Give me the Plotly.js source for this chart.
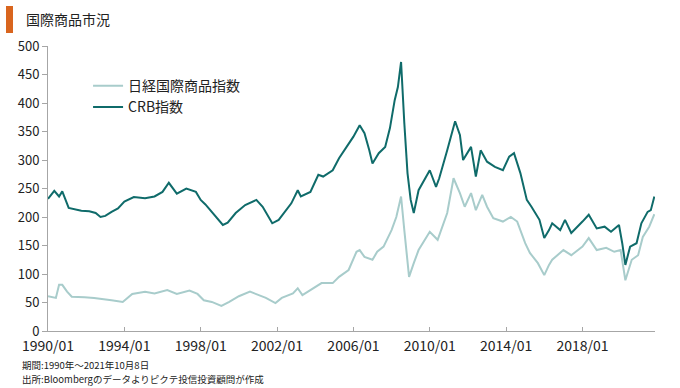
<!DOCTYPE html>
<html><head><meta charset="utf-8">
<script src="https://cdn.plot.ly/plotly-3.0.1.min.js"></script>
<style>html,body{margin:0;padding:0;background:#fff;}#chart{width:680px;height:388px;}</style>
</head><body><div id="chart"></div>
<script>
const crbDates = ['1990-01-01','1990-03-01','1990-05-01','1990-08-01','1990-10-01','1991-02-01','1991-06-01','1991-10-01','1992-03-01','1992-07-01','1992-10-01','1993-01-01','1993-05-01','1993-09-01','1994-01-01','1994-07-01','1995-02-01','1995-08-01','1996-01-01','1996-05-01','1996-10-01','1997-04-01','1997-10-01','1998-01-01','1998-04-01','1998-11-01','1999-03-01','1999-06-01','1999-11-01','2000-05-01','2000-12-01','2001-04-01','2001-10-01','2002-02-01','2002-10-01','2003-02-01','2003-04-01','2003-10-01','2004-03-01','2004-06-01','2004-12-01','2005-04-01','2005-09-01','2006-01-01','2006-05-01','2006-08-01','2006-11-01','2007-01-01','2007-05-01','2007-09-01','2007-12-01','2008-03-01','2008-05-01','2008-07-01','2008-09-01','2008-11-01','2009-01-01','2009-03-01','2009-06-01','2009-09-01','2010-01-01','2010-05-01','2010-07-01','2010-12-01','2011-05-01','2011-08-01','2011-10-01','2012-03-01','2012-06-01','2012-09-01','2013-01-01','2013-06-01','2013-11-01','2014-03-01','2014-06-01','2014-10-01','2015-02-01','2015-05-01','2015-10-01','2016-01-01','2016-04-01','2016-06-01','2016-11-01','2017-02-01','2017-06-01','2018-01-01','2018-05-01','2018-10-01','2019-03-01','2019-07-01','2019-12-01','2020-02-01','2020-04-01','2020-07-01','2020-11-01','2021-02-01','2021-06-01','2021-08-01','2021-10-08'];
const crbValues = [232,238,246,236,245,216,214,211,210,207,200,202,209,215,227,235,233,236,244,260,241,250,244,230,222,200,186,190,207,221,230,218,189,195,224,247,236,244,274,271,282,303,323,341,361,347,317,294,312,323,356,405,428,472,365,277,230,207,247,262,282,253,268,317,368,344,300,323,271,317,297,288,282,306,312,277,230,218,195,163,177,189,177,195,172,192,204,180,183,174,186,154,116,148,154,189,209,212,236];
const nkDates = ['1990-01-01','1990-06-01','1990-08-01','1990-10-01','1991-01-01','1991-04-01','1991-12-01','1992-06-01','1993-05-01','1993-12-01','1994-06-01','1995-02-01','1995-08-01','1996-04-01','1996-10-01','1997-06-01','1997-11-01','1998-03-01','1998-08-01','1999-02-01','1999-07-01','2000-01-01','2000-08-01','2001-01-01','2001-06-01','2001-12-01','2002-04-01','2002-11-01','2003-02-01','2003-05-01','2003-12-01','2004-05-01','2004-12-01','2005-04-01','2005-10-01','2006-03-01','2006-05-01','2006-08-01','2007-01-01','2007-04-01','2007-08-01','2008-01-01','2008-04-01','2008-07-01','2008-09-01','2008-12-01','2009-03-01','2009-06-01','2010-01-01','2010-06-01','2010-12-01','2011-04-01','2011-08-01','2011-11-01','2012-03-01','2012-06-01','2012-10-01','2013-01-01','2013-05-01','2013-11-01','2014-04-01','2014-08-01','2015-01-01','2015-04-01','2015-09-01','2016-01-01','2016-04-01','2016-06-01','2017-01-01','2017-06-01','2018-01-01','2018-05-01','2018-10-01','2019-04-01','2019-09-01','2020-01-01','2020-04-01','2020-08-01','2020-12-01','2021-03-01','2021-07-01','2021-10-08'];
const nkValues = [61,58,81,81,69,60,59,58,54,51,65,69,66,72,65,71,65,54,51,44,51,61,69,63,58,49,58,66,75,63,75,84,84,95,107,139,142,130,125,139,148,177,200,236,177,95,119,142,174,160,207,268,242,218,242,212,239,218,198,192,200,192,154,137,119,98,116,125,142,133,148,163,142,146,139,142,89,125,133,165,183,205];
const seriesNames = ['日経国際商品指数','CRB指数'];
const titleText = '国際商品市況';
const note1 = '期間:1990年～2021年10月8日';
const note2 = '出所:Bloombergのデータよりピクテ投信投資顧問が作成';

const font = '"Noto Sans CJK JP", "Noto Sans", sans-serif';
const traces = [
  {x: nkDates, y: nkValues, name: seriesNames[0], type: 'scatter', mode: 'lines',
   line: {color: '#A8CCCB', width: 2}},
  {x: crbDates, y: crbValues, name: seriesNames[1], type: 'scatter', mode: 'lines',
   line: {color: '#0F6B6A', width: 2}}
];
const layout = {
  width: 680, height: 388,
  margin: {l: 48, r: 25, t: 46, b: 57},
  paper_bgcolor: '#fff', plot_bgcolor: '#fff',
  font: {family: font, color: '#222', size: 13},
  showlegend: true,
  legend: {x: 0.066, y: 0.915, xanchor: 'left', yanchor: 'top', bgcolor: 'rgba(0,0,0,0)',
           font: {size: 14, family: font, color: '#222'}, tracegroupgap: 0},
  xaxis: {type: 'date', range: ['1990-01-01', '2021-10-20'], tick0: '1990-01-01', dtick: 'M48',
          tickformat: '%Y/%m', showgrid: false, zeroline: false, showline: true,
          linecolor: '#a6a6a6', linewidth: 1, ticks: 'inside', ticklen: 4, tickcolor: '#a6a6a6',
          ticklabelstandoff: 2,
          tickfont: {size: 14, family: font, color: '#222'}},
  yaxis: {range: [0, 500], dtick: 50, showgrid: false, zeroline: false, showline: true,
          linecolor: '#a6a6a6', linewidth: 1, ticks: 'outside', ticklen: 5, tickcolor: '#a6a6a6',
          tickfont: {size: 13, family: font, color: '#222'}},
  shapes: [
    {type: 'rect', xref: 'paper', yref: 'paper', x0: -42/607, x1: -35/607, y0: 1 + 13/285, y1: 1 + 40/285,
     fillcolor: '#D9651E', line: {width: 0}}],
  annotations: [
    {text: titleText, xref: 'paper', yref: 'paper', x: -24/607, y: 1 + 27/285, xanchor: 'left', yanchor: 'middle',
     showarrow: false, font: {size: 14, family: font, color: '#222'}},
    {text: note1, xref: 'paper', yref: 'paper', x: -28/607, y: -34/285, xanchor: 'left', yanchor: 'middle',
     showarrow: false, font: {size: 9.5, family: font, color: '#222'}},
    {text: note2, xref: 'paper', yref: 'paper', x: -28/607, y: -48/285, xanchor: 'left', yanchor: 'middle',
     showarrow: false, font: {size: 9.5, family: font, color: '#222'}}
  ]
};
Plotly.newPlot('chart', traces, layout, {displayModeBar: false, staticPlot: true});
</script></body></html>
